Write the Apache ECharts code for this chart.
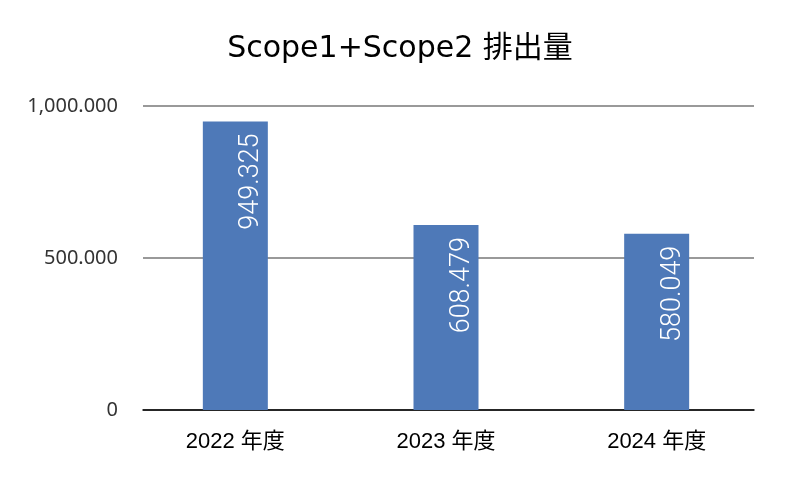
<!DOCTYPE html>
<html><head><meta charset="utf-8">
<script src="https://cdn.jsdelivr.net/npm/echarts@6/dist/echarts.min.js"></script>
<style>html,body{margin:0;padding:0;background:#fff}#c{width:800px;height:480px}</style>
</head><body><div id="c"></div>
<script>
const categories = ['2022 年度', '2023 年度', '2024 年度'];
const emissions = [949.325, 608.479, 580.049];
const yTicks = [0, 500, 1000];

const chart = echarts.init(document.getElementById('c'));
function fmt(v){
  if (v === 0) return '0';
  const parts = v.toFixed(3).split('.');
  parts[0] = parts[0].replace(/\B(?=(\d{3})+(?!\d))/g, ',');
  return parts.join('.');
}
const lblFont = "'Noto Sans', 'Noto Sans CJK JP', sans-serif";
chart.setOption({
  animation: false,
  title: {
    text: 'Scope1+Scope2 排出量',
    left: 'center', top: 29,
    textStyle: {fontFamily: "'DejaVu Sans', 'Noto Sans CJK JP'", fontSize: 30, fontWeight: 'normal', color: '#000'}
  },
  grid: [
    {left: 130, right: 38, top: 106, bottom: 70},
    {left: 143, right: 46, top: 106, bottom: 70}
  ],
  xAxis: [{
    gridIndex: 0, type: 'category', data: categories,
    axisTick: {show: false}, axisLine: {show: false},
    axisLabel: {color: '#000', fontSize: 22, margin: 21, fontFamily: "'Liberation Sans', 'Noto Sans CJK JP', sans-serif"}
  }, {
    gridIndex: 1, type: 'category', data: categories,
    axisTick: {show: false}, axisLabel: {show: false},
    axisLine: {lineStyle: {color: '#000', width: 1.5}}
  }],
  yAxis: [{
    gridIndex: 0, type: 'value', min: yTicks[0], max: yTicks[2], interval: 500,
    axisLine: {show: false}, axisTick: {show: false},
    splitLine: {show: false}, axisLabel: {show: false}
  }, {
    gridIndex: 1, type: 'value', min: yTicks[0], max: yTicks[2], interval: 500,
    axisLine: {show: false}, axisTick: {show: false},
    splitLine: {lineStyle: {color: '#777', width: 1.5}},
    axisLabel: {color: '#333', fontSize: 20, margin: 25, fontFamily: lblFont, formatter: fmt}
  }],
  series: [{
    type: 'bar', xAxisIndex: 0, yAxisIndex: 0, data: emissions, barWidth: 65, z: 3,
    itemStyle: {color: '#4e79b8'},
    label: {
      show: true, position: ['75%', 12], rotate: 90, align: 'right', verticalAlign: 'middle',
      color: '#fff', fontSize: 27, fontWeight: 300, fontFamily: 'Roboto',
      formatter: p => p.value.toFixed(3)
    }
  }]
});
</script></body></html>
